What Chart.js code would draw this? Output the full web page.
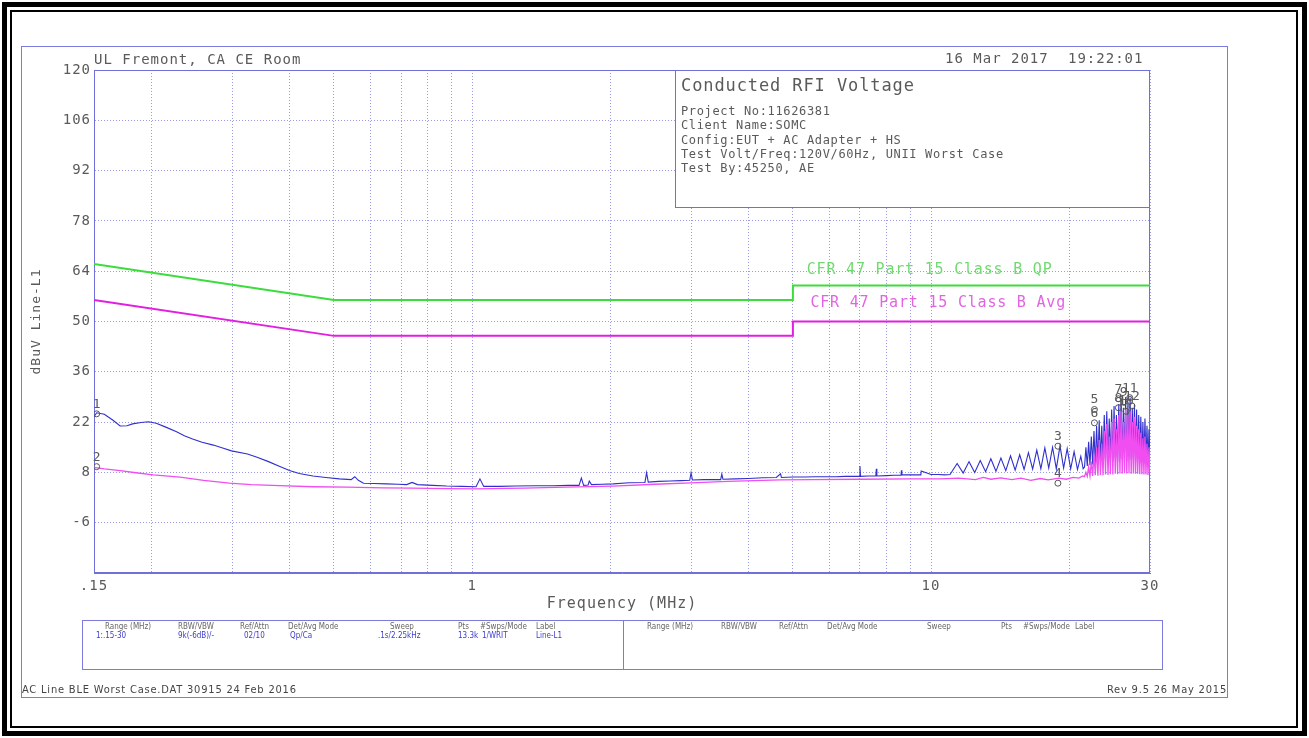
<!DOCTYPE html>
<html>
<head>
<meta charset="utf-8">
<title>Conducted RFI Voltage</title>
<script src="https://cdn.jsdelivr.net/npm/chart.js@4.4.1/dist/chart.umd.min.js"></script>
<style>
  html, body { margin: 0; padding: 0; background: #fff; }
  #page { position: relative; width: 1309px; height: 738px; overflow: hidden; background: #fff; }
  #chart { position: absolute; left: 0; top: 0; z-index: 1; }
  .abs { position: absolute; white-space: pre; z-index: 2; }
  .mono { font-family: "DejaVu Sans Mono", monospace; color: #5a5a5a; }
  .small { font-family: "DejaVu Sans Condensed", "Liberation Sans Narrow", "DejaVu Sans", sans-serif; font-size: 8px; line-height: 10px; color: #666; }
  .foot { font-family: "DejaVu Sans Condensed", "Liberation Sans Narrow", "DejaVu Sans", sans-serif; font-size: 11px; line-height: 12px; letter-spacing: 0.8px; color: #444; }
  .val { color: #3b3bd0; }
  #outer { position: absolute; left: 2px; top: 2px; width: 1295px; height: 724px; border: 5px solid #000; }
  #inner { position: absolute; left: 10px; top: 10px; width: 1284px; height: 714px; border: 2px solid #000; }
  #sheet { position: absolute; left: 21px; top: 46px; width: 1205px; height: 650px; border: 1px solid #7b7bdd; }
  #infobox { position: absolute; left: 675px; top: 70px; width: 473px; height: 136px; border: 1px solid #7070dd; background: #fff; z-index: 2; }
  #table { position: absolute; left: 82px; top: 620px; width: 1079px; height: 48px; border: 1px solid #7b7bdd; z-index: 2; }
  #divider { position: absolute; left: 623px; top: 620px; width: 1px; height: 50px; background: #7b7bdd; z-index: 2; }
</style>
</head>
<body>
<div id="page">
  <div id="outer"></div>
  <div id="inner"></div>
  <div id="sheet"></div>
  <canvas id="chart" width="1309" height="738"></canvas>

  <!-- en-tête -->
  <div class="abs mono" style="left:94px; top:51px; font-size:14px; line-height:16px; letter-spacing:1px;">UL Fremont, CA CE Room</div>
  <div class="abs mono" style="left:945px; top:50px; font-size:14px; line-height:16px; letter-spacing:1px;">16 Mar 2017</div>
  <div class="abs mono" style="left:1068px; top:50px; font-size:14px; line-height:16px; letter-spacing:1px;">19:22:01</div>

  <!-- boîte d'infos -->
  <div id="infobox"></div>
  <div class="abs mono" style="left:681px; top:75px; font-size:17px; line-height:20px; letter-spacing:0.9px;">Conducted RFI Voltage</div>
  <div class="abs mono" style="left:681px; top:104px; font-size:12px; line-height:14.3px; letter-spacing:0.65px;">Project No:11626381
Client Name:SOMC
Config:EUT + AC Adapter + HS
Test Volt/Freq:120V/60Hz, UNII Worst Case
Test By:45250, AE</div>

  <!-- tableau des réglages -->
  <div id="table"></div>
  <div id="divider"></div>
  <div class="abs small" style="left:105px; top:622px;">Range (MHz)</div>
  <div class="abs small" style="left:178px; top:622px;">RBW/VBW</div>
  <div class="abs small" style="left:240px; top:622px;">Ref/Attn</div>
  <div class="abs small" style="left:288px; top:622px;">Det/Avg Mode</div>
  <div class="abs small" style="left:390px; top:622px;">Sweep</div>
  <div class="abs small" style="left:458px; top:622px;">Pts</div>
  <div class="abs small" style="left:480px; top:622px;">#Swps/Mode</div>
  <div class="abs small" style="left:536px; top:622px;">Label</div>
  <div class="abs small val" style="left:96px; top:631px;">1:.15-30</div>
  <div class="abs small val" style="left:178px; top:631px;">9k(-6dB)/-</div>
  <div class="abs small val" style="left:244px; top:631px;">02/10</div>
  <div class="abs small val" style="left:290px; top:631px;">Qp/Ca</div>
  <div class="abs small val" style="left:378px; top:631px;">.1s/2.25kHz</div>
  <div class="abs small val" style="left:458px; top:631px;">13.3k</div>
  <div class="abs small val" style="left:482px; top:631px;">1/WRIT</div>
  <div class="abs small val" style="left:536px; top:631px;">Line-L1</div>
  <div class="abs small" style="left:647px; top:622px;">Range (MHz)</div>
  <div class="abs small" style="left:721px; top:622px;">RBW/VBW</div>
  <div class="abs small" style="left:779px; top:622px;">Ref/Attn</div>
  <div class="abs small" style="left:827px; top:622px;">Det/Avg Mode</div>
  <div class="abs small" style="left:927px; top:622px;">Sweep</div>
  <div class="abs small" style="left:1001px; top:622px;">Pts</div>
  <div class="abs small" style="left:1023px; top:622px;">#Swps/Mode</div>
  <div class="abs small" style="left:1075px; top:622px;">Label</div>

  <!-- pied de page -->
  <div class="abs foot" style="left:22px; top:684px;">AC Line BLE Worst Case.DAT 30915 24 Feb 2016</div>
  <div class="abs foot" style="right:82px; top:684px;">Rev 9.5 26 May 2015</div>
</div>

<script>
// ===================== DONNÉES =====================
// Lignes limites (CFR 47 Part 15 Class B)
const limitFreq = [0.15, 0.5, 5, 5, 30];
const qpLimit = [66, 56, 56, 60, 60];
const avgLimit = [56, 46, 46, 50, 50];

// Trace crête (bleue), 0.15 - 11 MHz
const peakFreq = [
  0.150, 0.152, 0.158, 0.165, 0.171, 0.177, 0.182, 0.190, 0.197, 0.205,
  0.215, 0.227, 0.236, 0.246, 0.258, 0.273, 0.286, 0.299, 0.324, 0.34,
  0.36, 0.38, 0.40, 0.42, 0.45, 0.48, 0.514, 0.545, 0.555, 0.565,
  0.58, 0.61, 0.65, 0.69, 0.72, 0.74, 0.76, 0.82, 0.88, 0.95,
  1.02, 1.04, 1.06, 1.15, 1.24, 1.38, 1.5, 1.62, 1.71, 1.73,
  1.75, 1.79, 1.80, 1.82, 1.92, 2.03, 2.2, 2.38, 2.40, 2.42,
  2.55, 2.7, 2.85, 2.98, 3.0, 3.02, 3.2, 3.48, 3.5, 3.52,
  3.75, 4.0, 4.3, 4.6, 4.7, 4.72, 5.0, 5.3, 5.6, 5.9,
  6.2, 6.5, 6.98, 7.0, 7.02, 7.3, 7.58, 7.6, 7.62, 8.0,
  8.3, 8.6, 8.62, 8.64, 9.0, 9.5, 9.52, 10.0, 10.4, 10.7,
  11.0
];
const peakLevel = [
  23.5, 24.6, 24.2, 22.5, 20.9, 21.0, 21.5, 21.9, 22.1, 21.7,
  20.6, 19.3, 18.2, 17.3, 16.4, 15.6, 14.8, 14.0, 13.1, 12.2,
  11.0, 9.7, 8.5, 7.7, 7.0, 6.6, 6.2, 6.0, 6.8, 5.8,
  5.0, 4.9, 4.8, 4.7, 4.6, 5.2, 4.6, 4.4, 4.2, 4.1,
  4.0, 6.2, 4.1, 4.1, 4.2, 4.3, 4.3, 4.4, 4.4, 6.4,
  4.4, 4.5, 5.6, 4.6, 4.7, 4.8, 5.1, 5.2, 7.9, 5.3,
  5.5, 5.6, 5.7, 5.8, 7.9, 5.9, 6.0, 6.0, 7.5, 6.1,
  6.2, 6.3, 6.5, 6.6, 7.6, 6.6, 6.7, 6.7, 6.8, 6.8,
  6.8, 6.9, 6.9, 9.8, 6.9, 7.0, 7.0, 9.0, 7.0, 7.1,
  7.2, 7.2, 8.6, 7.3, 7.3, 7.3, 8.4, 7.4, 7.4, 7.3,
  7.4
];
// Trace crête, ondulation 11 - 21.5 MHz
const peakMidFreq = [11.4, 11.75, 12.1, 12.45, 12.8, 13.15, 13.5, 13.85, 14.2, 14.55,
  14.9, 15.25, 15.6, 15.95, 16.3, 16.65, 17.0, 17.35, 17.7, 18.05,
  18.4, 18.75, 19.1, 19.45, 19.8, 20.15, 20.5, 20.85, 21.2, 21.45];
const peakMidLevel = [10.5, 7.8, 11.0, 8.0, 11.3, 8.2, 11.8, 8.3, 12.0, 8.5,
  12.6, 8.6, 12.9, 8.8, 13.5, 8.9, 14.2, 9.0, 14.8, 9.2,
  15.0, 9.0, 15.4, 9.2, 14.6, 9.0, 13.8, 8.8, 12.5, 9.0];

// Zone dense 21.6 - 30 MHz (commune aux deux traces)
const hfFreq = [21.6, 21.75, 21.9, 22.05, 22.2, 22.35, 22.5, 22.65, 22.8, 22.95,
  23.1, 23.25, 23.4, 23.55, 23.7, 23.85, 24.0, 24.15, 24.3, 24.45,
  24.6, 24.75, 24.9, 25.05, 25.2, 25.35, 25.5, 25.65, 25.8, 25.95,
  26.1, 26.25, 26.4, 26.55, 26.7, 26.85, 27.0, 27.15, 27.3, 27.45,
  27.6, 27.75, 27.9, 28.05, 28.2, 28.35, 28.5, 28.65, 28.8, 28.95,
  29.1, 29.25, 29.4, 29.55, 29.7, 29.85, 30.0];
const peakHfLevel = [9.5, 15, 9.8, 16.5, 10, 18, 10.2, 19.5, 10, 21,
  10.5, 22.5, 11, 21, 10.8, 24, 11, 25, 10.5, 23,
  11.5, 25.5, 11, 26.5, 12, 24, 11, 27, 12, 28.5,
  11.5, 26, 12, 29, 11, 27.5, 12.5, 28.8, 11.5, 26,
  12, 27, 11, 25.5, 11.5, 24, 10.5, 23.5, 11, 22,
  10.5, 23, 10.8, 21, 10.2, 20, 12];
const avgHfLevel = [6.8, 8, 6.9, 9.5, 7, 11, 7, 13, 7.2, 15,
  7.1, 17, 7.3, 16, 7.2, 19.5, 7.4, 21.5, 7.3, 18,
  7.5, 22, 7.4, 23, 7.6, 20, 7.5, 24, 7.7, 25,
  7.6, 22, 7.8, 25.5, 7.7, 24, 7.8, 25, 7.6, 22,
  7.7, 23.5, 7.6, 21, 7.6, 20, 7.5, 19, 7.5, 17.5,
  7.4, 18, 7.4, 16, 7.3, 15, 8];

// Trace moyenne (magenta), 0.15 - 21.5 MHz
const avgFreq = [0.150, 0.158, 0.171, 0.185, 0.202, 0.231, 0.26, 0.296, 0.33, 0.38,
  0.45, 0.535, 0.64, 0.74, 0.88, 1.02, 1.3, 1.6, 2.03, 2.5,
  3.0, 3.6, 4.7, 5.5, 7.0, 9.0, 10.5, 11.5, 12.5, 13.0,
  13.5, 14.2, 15.0, 15.7, 16.5, 17.3, 18.0, 19.0, 19.7, 20.4,
  21.0, 21.4];
const avgLevel = [9.4, 9.0, 8.5, 7.9, 7.3, 6.7, 5.8, 5.0, 4.6, 4.3,
  4.0, 3.9, 3.7, 3.6, 3.5, 3.4, 3.6, 3.9, 4.2, 4.7,
  5.1, 5.5, 5.9, 6.0, 6.1, 6.2, 6.2, 6.4, 6.0, 6.6,
  6.1, 6.5, 6.0, 6.4, 5.8, 6.3, 5.9, 6.4, 6.1, 6.6,
  6.4, 7.0];

// Marqueurs
const markerLabel = ['1', '2', '3', '4', '5', '6', '7', '8', '9', '10', '11', '12'];
const markerFreq = [0.152, 0.152, 18.9, 18.9, 22.7, 22.7, 25.6, 25.6, 26.3, 26.6, 27.1, 27.4];
const markerLevel = [24.3, 9.6, 15.3, 5.0, 25.5, 21.8, 28.5, 26.0, 27.5, 25.0, 28.8, 26.5];

// Axes
const yTickMin = -20, yTickMax = 120, yTickStep = 14;
const xGridValues = [0.15, 0.2, 0.3, 0.4, 0.5, 0.6, 0.7, 0.8, 0.9, 1, 2, 3, 4, 5, 6, 7, 8, 9, 10, 20, 30];
const xLabelValues = [0.15, 1, 10, 30];
const xLabelText = ['.15', '1', '10', '30'];

// ===================== STYLE =====================
const gridColor = '#9a9af0';
const frameColor = '#7070dd';
const textColor = '#5a5a5a';
const monoFont = '"DejaVu Sans Mono", monospace';

function toPoints(xs, ys) {
    return xs.map((f, i) => ({ x: f, y: ys[i] }));
}

// Plugin: cadre, libellés des limites, libellés des marqueurs
const overlayPlugin = {
    id: 'overlay',
    beforeDraw(chart) {
        chart.ctx.letterSpacing = '1px';
    },
    beforeDatasetsDraw(chart) {
        const { ctx, chartArea: a, scales: { x, y } } = chart;
        ctx.save();
        ctx.strokeStyle = frameColor;
        ctx.lineWidth = 1;
        ctx.strokeRect(a.left + 0.5, a.top + 0.5, a.right - a.left - 1, a.bottom - a.top - 1);
        ctx.font = '15px ' + monoFont;
        ctx.letterSpacing = '0.8px';
        ctx.textBaseline = 'middle';
        ctx.textAlign = 'left';
        ctx.fillStyle = '#70da70';
        ctx.fillText('CFR 47 Part 15 Class B QP', x.getPixelForValue(5.36), y.getPixelForValue(64.3));
        ctx.fillStyle = '#e264e2';
        ctx.fillText('CFR 47 Part 15 Class B Avg', x.getPixelForValue(5.46), y.getPixelForValue(55.1));
        ctx.restore();
    },
    afterDatasetsDraw(chart) {
        const { ctx } = chart;
        const meta = chart.getDatasetMeta(chart.data.datasets.findIndex(d => d.id === 'markers'));
        ctx.save();
        ctx.font = '13px ' + monoFont;
        ctx.letterSpacing = '0px';
        ctx.fillStyle = textColor;
        ctx.textAlign = 'center';
        ctx.textBaseline = 'bottom';
        meta.data.forEach((pt, i) => {
            ctx.fillText(markerLabel[i], pt.x, pt.y - 3);
        });
        ctx.restore();
    }
};

const ctx = document.getElementById('chart').getContext('2d');
new Chart(ctx, {
    type: 'line',
    data: {
        datasets: [
            {
                id: 'markers',
                type: 'scatter',
                data: toPoints(markerFreq, markerLevel),
                showLine: false,
                pointRadius: 3,
                pointStyle: 'circle',
                pointBorderColor: '#555',
                pointBackgroundColor: 'rgba(0,0,0,0)',
                pointBorderWidth: 1,
                order: 0
            },
            {
                label: 'Avg',
                data: toPoints(avgFreq.concat(hfFreq), avgLevel.concat(avgHfLevel)),
                borderColor: '#f04ef0',
                borderWidth: 1.3,
                pointRadius: 0,
                tension: 0,
                order: 1
            },
            {
                label: 'Peak',
                data: toPoints(peakFreq.concat(peakMidFreq, hfFreq), peakLevel.concat(peakMidLevel, peakHfLevel)),
                borderColor: '#3030cc',
                borderWidth: 1.1,
                pointRadius: 0,
                tension: 0,
                order: 2
            },
            {
                label: 'CFR 47 Part 15 Class B Avg',
                data: toPoints(limitFreq, avgLimit),
                borderColor: '#e21ee2',
                borderWidth: 2,
                pointRadius: 0,
                tension: 0,
                order: 3
            },
            {
                label: 'CFR 47 Part 15 Class B QP',
                data: toPoints(limitFreq, qpLimit),
                borderColor: '#3cdc3c',
                borderWidth: 2,
                pointRadius: 0,
                tension: 0,
                order: 4
            }
        ]
    },
    options: {
        responsive: false,
        animation: false,
        events: [],
        layout: { padding: { left: 20, top: 70, right: 159, bottom: 123 } },
        plugins: { legend: { display: false }, tooltip: { enabled: false } },
        scales: {
            x: {
                type: 'logarithmic',
                min: 0.15,
                max: 30,
                afterBuildTicks: s => { s.ticks = xGridValues.map(v => ({ value: v })); },
                afterFit: s => { s.height = 42; },
                ticks: {
                    autoSkip: false,
                    maxRotation: 0,
                    padding: 5,
                    color: textColor,
                    font: { family: monoFont, size: 14 },
                    callback: v => {
                        const i = xLabelValues.indexOf(v);
                        return i >= 0 ? xLabelText[i] : '';
                    }
                },
                grid: { color: gridColor, drawTicks: false, lineWidth: 1 },
                border: { color: frameColor, dash: [1, 2] },
                title: {
                    display: true,
                    text: 'Frequency (MHz)',
                    color: textColor,
                    font: { family: monoFont, size: 15 },
                    padding: { top: 0, bottom: 2 }
                }
            },
            y: {
                min: yTickMin,
                max: yTickMax,
                afterFit: s => { s.width = 74; },
                ticks: {
                    stepSize: yTickStep,
                    padding: 3,
                    color: textColor,
                    font: { family: monoFont, size: 14 },
                    callback: v => (v === yTickMin ? '' : v)
                },
                grid: { color: gridColor, drawTicks: false, lineWidth: 1 },
                border: { color: frameColor, dash: [1, 2] },
                title: {
                    display: true,
                    text: 'dBuV Line-L1',
                    color: textColor,
                    font: { family: monoFont, size: 13 },
                    padding: { top: 9, bottom: 0 }
                }
            }
        }
    },
    plugins: [overlayPlugin]
});
</script>
</body>
</html>
